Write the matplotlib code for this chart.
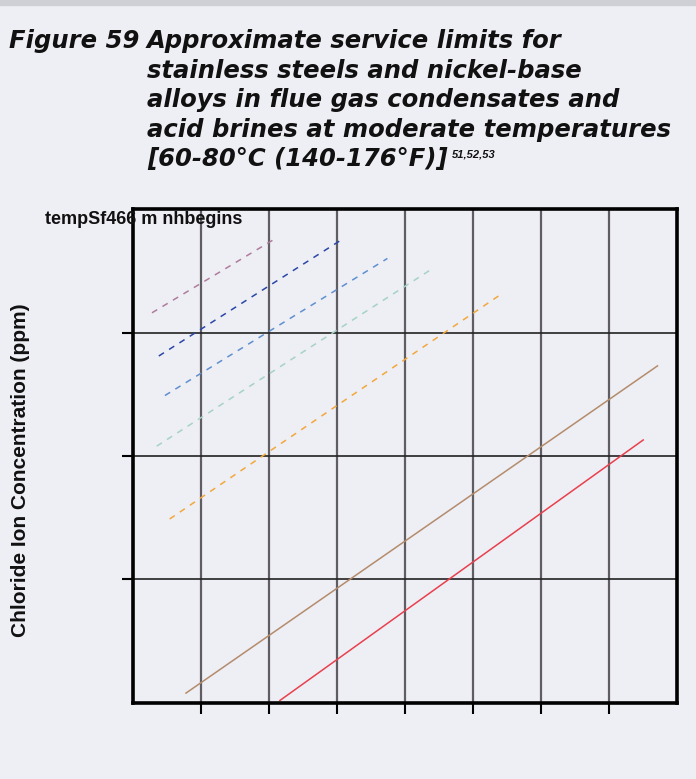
import matplotlib.pyplot as plt
from matplotlib.patches import Rectangle

# service limit lines (x: relative temperature units, y: relative chloride level)
series_names = ['mauve', 'dark_blue', 'mid_blue', 'teal', 'orange', 'tan', 'red']
x_start = [0.28, 0.38, 0.47, 0.35, 0.54, 0.78, 2.16]
x_end = [2.09, 3.09, 3.74, 4.38, 5.41, 7.71, 7.50]
y_start = [3.16, 2.81, 2.49, 2.08, 1.49, 0.08, 0.02]
y_end = [3.76, 3.76, 3.60, 3.51, 3.31, 2.73, 2.13]
colors = ['#b07c9c', '#2b47a6', '#5f8fcf', '#a5d3c4', '#f2a83a', '#b48c6c', '#e8404c']
dashed = [True, True, True, True, True, False, False]

x_ticks = [1, 2, 3, 4, 5, 6, 7]
y_ticks = [1, 2, 3]

title_lines = ['Approximate service limits for',
               'stainless steels and nickel-base',
               'alloys in flue gas condensates and',
               'acid brines at moderate temperatures',
               '[60-80°C (140-176°F)]']

bg = '#eeeef5'
fig = plt.figure(figsize=(6.96, 7.79), dpi=100, facecolor=bg)
fig.patches.append(Rectangle((0, 0.993), 1, 0.007, transform=fig.transFigure,
                             color='#cfcfd6', zorder=0))

# title
tfont = dict(family=['DejaVu Sans'], fontsize=17.5,
             fontweight='bold', fontstyle='italic', color='#111111')
y0 = 1 - 48 / 779
dy = 29.5 / 779
fig.text(0.013, y0, 'Figure 59', va='baseline', **tfont)
last = None
for i, s in enumerate(title_lines):
    last = fig.text(0.211, y0 - i * dy, s, va='baseline', **tfont)

r = fig.canvas.get_renderer()
bb = last.get_window_extent(renderer=r)
fig.text(bb.x1 / fig.bbox.width + 0.006, y0 - 4 * dy + 0.011, '51,52,53',
         va='baseline', family=['Liberation Sans', 'DejaVu Sans'], fontsize=8,
         fontweight='bold', fontstyle='italic', color='#111111')

ax = fig.add_axes([0.191, 0.0976, 0.782, 0.634])
ax.set_facecolor(bg)
ax.set_xlim(0, 8)
ax.set_ylim(0, 4)
ax.set_xticks(x_ticks)
ax.set_yticks(y_ticks)
ax.set_xticklabels([])
ax.set_yticklabels([])
ax.tick_params(direction='out', length=8, width=1.5, color='black')
ax.xaxis.grid(True, color='#5e5e62', linewidth=1.6)
ax.yaxis.grid(True, color='#222222', linewidth=1.2)
ax.set_axisbelow(True)
for sp in ax.spines.values():
    sp.set_linewidth(2.6)
    sp.set_color('black')

for i in range(len(series_names)):
    ls = (0, (4, 4)) if dashed[i] else '-'
    ax.plot([x_start[i], x_end[i]], [y_start[i], y_end[i]], color=colors[i],
            linestyle=ls, linewidth=1.1)

fig.text(21 / 696, 1 - 470 / 779, 'Chloride Ion Concentration (ppm)',
         rotation=90, ha='center', va='center', fontsize=15, fontweight='bold',
         family=['Liberation Sans', 'DejaVu Sans'], color='#111111')

fig.text(0.065, 1 - 224 / 779, 'tempSf466 m nhbegins', va='baseline',
         family=['Liberation Sans', 'DejaVu Sans'],
         fontsize=13, fontweight='bold', color='#111111')

fig.savefig('out.png', dpi=100, facecolor=bg)
